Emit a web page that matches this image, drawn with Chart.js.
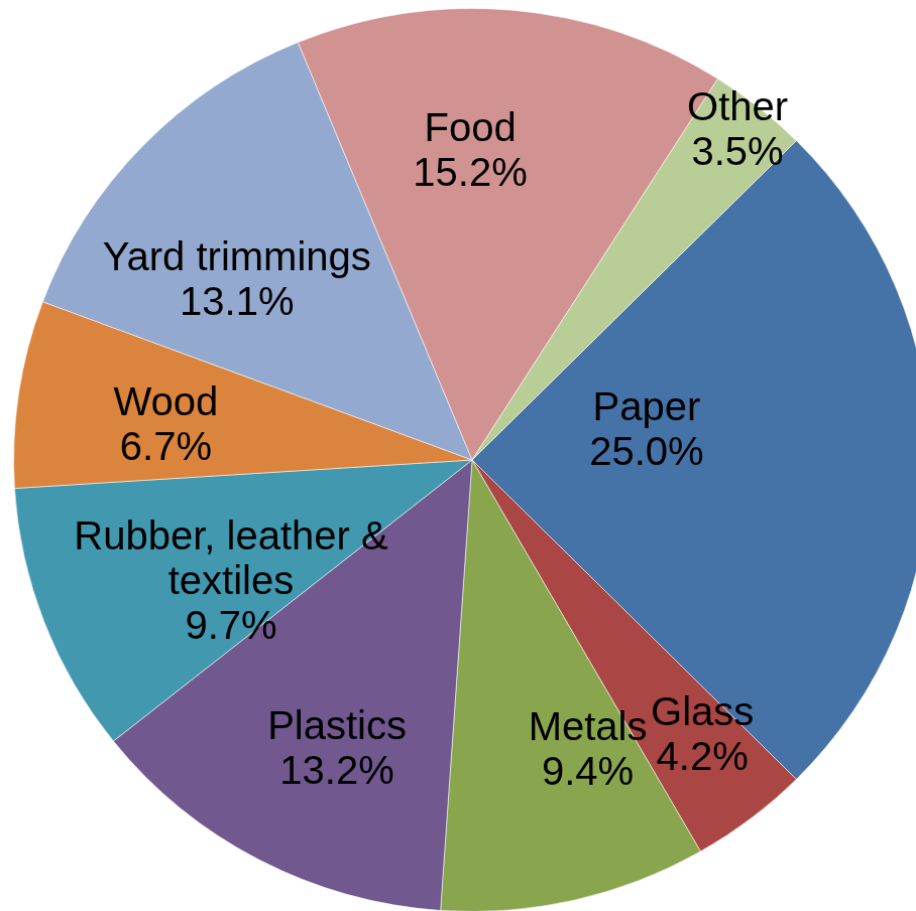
<!DOCTYPE html>
<html>
<head>
<meta charset="utf-8">
<script src="https://cdn.jsdelivr.net/npm/chart.js@4.4.1/dist/chart.umd.min.js"></script>
<style>
  html, body { margin: 0; padding: 0; background: #fff; overflow: hidden; }
  #wrap { width: 936px; height: 926px; transform: scale(1.0088, 0.9934); transform-origin: 0 0; }
</style>
</head>
<body>
<div id="wrap"><canvas id="cPie" width="936" height="926"></canvas></div>
<script>
/* pie: municipal waste by material */

var categories = ["Paper", "Glass", "Metals", "Plastics", "Rubber, leather &\ntextiles", "Wood", "Yard trimmings", "Food", "Other"];
var shares = [25.0, 4.2, 9.4, 13.2, 9.7, 6.7, 13.1, 15.2, 3.5];
var colors = ["#4572A7", "#AA4643", "#89A54E", "#71588F", "#4198AF", "#DB843D", "#93A9CF", "#D19392", "#B9CD96"];

// label placement: degrees off the slice middle, and fraction of the radius
var labelShift = [-10.5, -2.2, -8.6, -2.9, -5.7, -1.5, -6.0, -5.4, -0.5];
var labelDist = [0.387, 0.787, 0.686, 0.702, 0.589, 0.673, 0.652, 0.688, 0.936];

var FONT_PX = 40;
var FONT = FONT_PX + "px 'Liberation Sans', Arial, sans-serif";
var LINE_H = 45;

var ctx = document.getElementById("cPie");

new Chart(ctx, {
  type: "pie",
  data: {
    labels: categories,
    datasets: [{
      data: shares,
      backgroundColor: colors,
      borderColor: "rgba(255,255,255,.55)",
      borderWidth: 1
    }]
  },
  options: {
    responsive: false,
    animation: false,
    rotation: 45,
    layout: { padding: { left: 13, right: 13, top: 8, bottom: 8 } },
    plugins: {
      legend: { display: false },
      tooltip: { enabled: false }
    }
  },
  plugins: [{
    id: "sliceLabels",
    afterDraw: function(ch) {
      var c = ch.ctx;
      var meta = ch.getDatasetMeta(0);
      c.save();
      c.font = FONT;
      c.fillStyle = "#000";
      c.textAlign = "center";
      c.textBaseline = "alphabetic";
      meta.data.forEach(function(arc, i) {
        var p = arc.getProps(["x", "y", "startAngle", "endAngle", "outerRadius"], true);
        var mid = (p.startAngle + p.endAngle) / 2 + labelShift[i] * Math.PI / 180;
        var r = p.outerRadius * labelDist[i];
        var lx = p.x + Math.cos(mid) * r;
        var ly = p.y + Math.sin(mid) * r;
        var lines = categories[i].split("\n");
        lines.push(shares[i].toFixed(1) + "%");
        var top = ly - (lines.length - 1) * LINE_H / 2;
        lines.forEach(function(t, k) {
          // centre the cap height on the line position
          c.fillText(t, lx, top + k * LINE_H + FONT_PX * 0.358);
        });
      });
      c.restore();
    }
  }]
});
</script>
</body>
</html>
